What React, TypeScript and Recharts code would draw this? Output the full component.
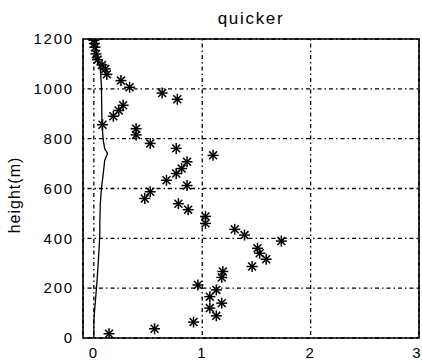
import { ScatterChart, Scatter, XAxis, YAxis, CartesianGrid, ReferenceArea } from 'recharts';

const starX = [0, 0.005, 0.01, 0.02, 0.035, 0.075, 0.105, 0.12, 0.25, 0.33, 0.63, 0.77, 0.27, 0.23, 0.18, 0.08, 0.39, 0.39, 0.52, 0.76, 1.1, 0.86, 0.81, 0.76, 0.67, 0.86, 0.52, 0.47, 0.78, 0.87, 1.03, 1.03, 1.3, 1.39, 1.73, 1.51, 1.53, 1.59, 1.46, 1.19, 1.18, 0.96, 1.13, 1.07, 1.18, 1.07, 1.13, 0.92, 0.56, 0.14];
const starY = [1195, 1182, 1167, 1140, 1117, 1096, 1080, 1058, 1033, 1006, 983, 958, 934, 913, 890, 856, 840, 815, 781, 761, 733, 707, 680, 660, 633, 612, 587, 560, 539, 515, 488, 460, 436, 413, 389, 360, 340, 316, 287, 267, 243, 213, 193, 166, 140, 120, 89, 64, 37, 17];

const lineX = [0, 0, 0.005, 0.018, 0.03, 0.04, 0.05, 0.055, 0.055, 0.06, 0.07, 0.087, 0.1, 0.127, 0.1, 0.087, 0.075, 0.07, 0.06, 0.045, 0.02, 0];
const lineY = [0, 60, 100, 167, 233, 300, 370, 420, 460, 540, 600, 660, 713, 740, 760, 793, 857, 1013, 1080, 1100, 1153, 1200];

const xTicks = [0, 1, 2, 3];
const yTicks = [0, 200, 400, 600, 800, 1000, 1200];

const stars = starX.map((x, i) => ({ x, y: starY[i] }));
const profile = lineX.map((x, i) => ({ x, y: lineY[i] }));

const font = '"Liberation Sans", Arial, sans-serif';

const Asterisk = (props: any) => {
  const { cx, cy } = props;
  const r = 5.5;
  const d = r * 0.72;
  return (
    <g stroke="#000" strokeWidth={1.5}>
      <line x1={cx - r} y1={cy} x2={cx + r} y2={cy} />
      <line x1={cx} y1={cy - r} x2={cx} y2={cy + r} />
      <line x1={cx - d} y1={cy - d} x2={cx + d} y2={cy + d} />
      <line x1={cx - d} y1={cy + d} x2={cx + d} y2={cy - d} />
    </g>
  );
};

export default function App() {
  const tickStyle = { fill: '#000', fontSize: 15, fontFamily: font, letterSpacing: 1.8 };
  return (
    <div style={{ position: 'absolute', left: 0, top: 0, width: 422, height: 362, background: '#fff' }}>
      <div
        style={{
          position: 'absolute',
          left: 83,
          width: 336,
          top: 9,
          textAlign: 'center',
          fontFamily: font,
          fontSize: 17,
          letterSpacing: 1.7,
          color: '#000',
        }}
      >
        quicker
      </div>
      <ScatterChart width={422} height={362} margin={{ top: 39, right: 3, bottom: 0, left: 0 }}>
        <CartesianGrid stroke="#000" strokeWidth={1.3} strokeDasharray="1.5 3 4 3" />
        <XAxis
          type="number"
          dataKey="x"
          domain={[-0.1, 3]}
          ticks={xTicks}
          allowDataOverflow
          axisLine={false}
          tickLine={false}
          tickSize={0}
          tickMargin={9}
          height={24}
          tick={tickStyle}
        />
        <YAxis
          type="number"
          dataKey="y"
          domain={[0, 1200]}
          ticks={yTicks}
          allowDataOverflow
          axisLine={false}
          tickLine={false}
          tickSize={0}
          tickMargin={9}
          width={83}
          tick={tickStyle}
          label={() => (
            <text
              x={20}
              y={195}
              transform="rotate(-90 20 195)"
              textAnchor="middle"
              fontFamily={font}
              fontSize={16}
              letterSpacing={1}
              fill="#000"
            >
              height(m)
            </text>
          )}
        />
        <ReferenceArea x1={-0.1} x2={3} y1={0} y2={1200} fill="none" stroke="#000" strokeWidth={1.6} ifOverflow="visible" />
        <Scatter
          data={profile}
          line={{ stroke: '#000', strokeWidth: 1.3 }}
          shape={() => <g />}
          isAnimationActive={false}
        />
        <Scatter data={stars} shape={Asterisk} isAnimationActive={false} />
      </ScatterChart>
    </div>
  );
}
